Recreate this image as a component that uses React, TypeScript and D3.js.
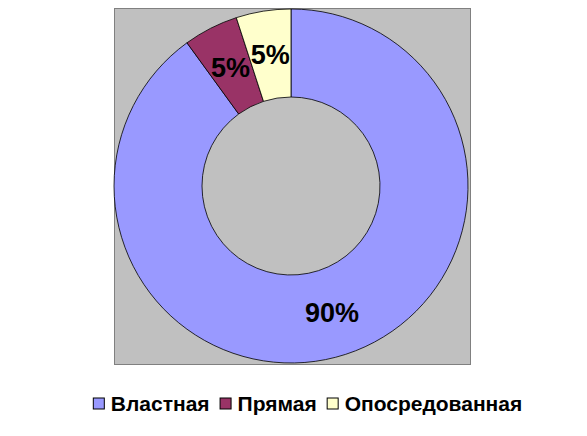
import React, { useEffect, useRef } from "react";
import * as d3 from "d3";

// Chart data
const categories = ["Властная", "Прямая", "Опосредованная"];
const values = [90, 5, 5];
const labels = ["90%", "5%", "5%"];
const colors = ["#9999FF", "#993366", "#FFFFCC"];

const FONT = "'Liberation Sans', Arial, sans-serif";

export default function App() {
  const ref = useRef<SVGSVGElement>(null);

  useEffect(() => {
    const svg = d3.select(ref.current);
    svg.selectAll("*").remove();

    // Plot area
    const plot = { x: 114, y: 8, w: 356, h: 356 };
    svg
      .append("rect")
      .attr("x", plot.x + 0.5)
      .attr("y", plot.y + 0.5)
      .attr("width", plot.w)
      .attr("height", plot.h)
      .attr("fill", "#C0C0C0")
      .attr("stroke", "#808080")
      .attr("stroke-width", 1);

    const cx = plot.x + plot.w / 2 - 1,
      cy = plot.y + plot.h / 2;
    const outer = 177,
      inner = 89;

    const pie = d3
      .pie<number>()
      .sort(null)
      .value((d) => d);
    const arcs = pie(values);
    const arc = d3.arc<d3.PieArcDatum<number>>().innerRadius(inner).outerRadius(outer);

    const g = svg.append("g").attr("transform", `translate(${cx}, ${cy})`);

    g.selectAll("path")
      .data(arcs)
      .join("path")
      .attr("d", arc)
      .attr("fill", (d, i) => colors[i])
      .attr("stroke", "#000")
      .attr("stroke-width", 0.8);

    // Percent labels at slice centroids
    g.selectAll("text")
      .data(arcs)
      .join("text")
      .attr("transform", (d) => {
        const [x, y] = arc.centroid(d);
        return `translate(${x}, ${y})`;
      })
      .attr("text-anchor", "middle")
      .attr("dy", "0.36em")
      .style("font-family", FONT)
      .style("font-weight", "bold")
      .style("font-size", "27px")
      .text((d, i) => labels[i]);

    // Legend
    const legendY = 403;
    const fontSize = 21;
    const box = 11;
    const boxGap = 7;
    const itemGap = 10;

    const legend = svg.append("g");
    const items = legend
      .selectAll("g")
      .data(categories)
      .join("g");

    items
      .append("text")
      .attr("y", legendY)
      .attr("dy", "0.36em")
      .style("font-family", FONT)
      .style("font-weight", "bold")
      .style("font-size", `${fontSize}px`)
      .text((d) => d);

    const widths: number[] = [];
    items.select("text").each(function () {
      widths.push((this as SVGTextElement).getComputedTextLength());
    });
    const total =
      d3.sum(widths) + categories.length * (box + boxGap) + (categories.length - 1) * itemGap;
    let x = 307.5 - total / 2;
    items.each(function (d, i) {
      const item = d3.select(this);
      item
        .append("rect")
        .attr("x", x + 0.5)
        .attr("y", legendY - box / 2 + 0.5)
        .attr("width", box)
        .attr("height", box)
        .attr("fill", colors[i])
        .attr("stroke", "#000")
        .attr("stroke-width", 1);
      item.select("text").attr("x", x + box + boxGap);
      x += box + boxGap + widths[i] + itemGap;
    });
  }, []);

  return (
    <svg
      ref={ref}
      width={587}
      height={436}
      style={{ position: "absolute", left: 0, top: 0, background: "#fff" }}
    />
  );
}
